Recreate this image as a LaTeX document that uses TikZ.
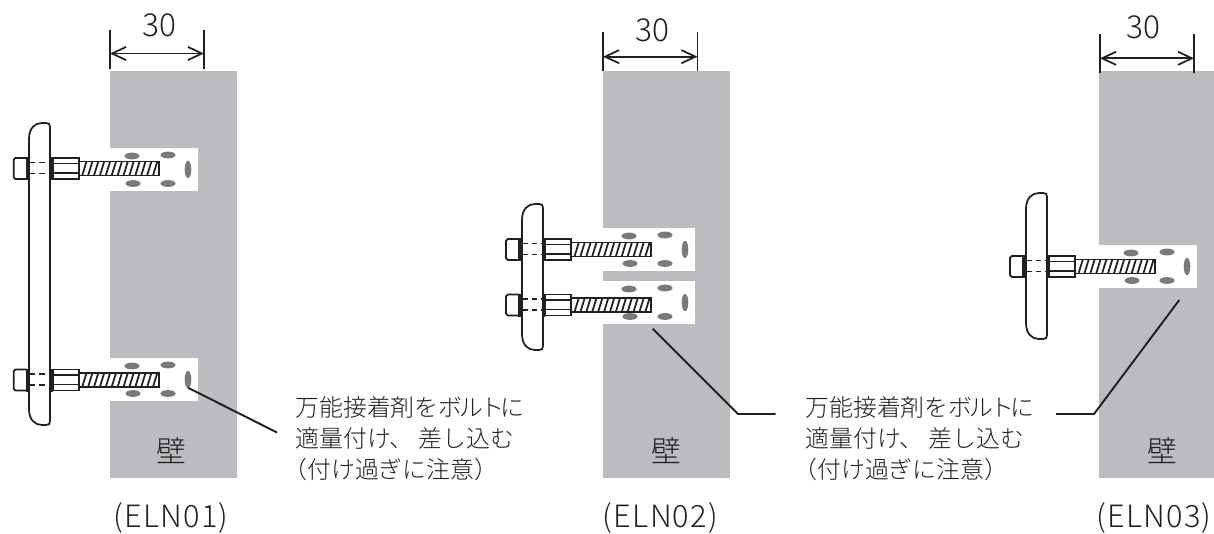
\documentclass[tikz,border=0pt]{standalone}
\usepackage{fontspec}
\setmainfont[UprightFont=* Light]{Noto Sans CJK JP}
\newfontfamily\capfont[UprightFont=* Light,LetterSpace=4]{Noto Sans CJK JP}
\usetikzlibrary{arrows.meta,positioning}
\definecolor{mywall}{RGB}{187,188,192}
\definecolor{myspot}{RGB}{122,122,125}
\definecolor{myink}{RGB}{35,31,32}
\def\anchorhole(#1,#2,#3)% Syntax: (wall left, hole right, hole centre)
    { \fill[white] (#1,#3-21.5) rectangle (#2,#3+21.5);
      \fill[spot] (#2-66,#3-13.5) ellipse (7.5 and 3.4);
      \fill[spot] (#2-30,#3-14.5) ellipse (7.5 and 3.4);
      \fill[spot] (#2-65,#3+14) ellipse (7.5 and 3.4);
      \fill[spot] (#2-30,#3+14) ellipse (7.5 and 3.4);
      \fill[spot] (#2-10,#3) ellipse (3.3 and 8.7); }
\def\anchorbolt(#1,#2)% Syntax: (head left, bolt centre)
    { \begin{scope}[shift={(#1,#2)},part]
      \draw[rounded corners=1] (13,-10.5) -- (0,-10.5) -- (0,10.5) -- (13,10.5);
      \fill[myink] (12.3,-11.5) rectangle (16.3,11.5);
      \fill[myink] (35.6,-11.5) rectangle (39,11.5);
      \draw[dash pattern=on 3 off 2.4] (16.3,-6) -- (35.6,-6);
      \draw[dash pattern=on 3 off 2.4] (16.3,5) -- (35.6,5);
      \draw (39,-10.5) rectangle (65.3,10.5);
      \draw (39,-5) -- (65.3,-5);
      \draw (39,4.5) -- (65.3,4.5);
      \draw (65.3,-7) rectangle (145,7);
      \foreach \k in {0,...,12} {
          \draw (68.5+5.9*\k,7) -- (72.8+5.9*\k,-7);
      }
      \end{scope} }
\def\platebar(#1,#2,#3)% Syntax: (left, top, bottom)
    { \draw[part] (#1,#2+16) .. controls (#1,#2+5) and (#1+6,#2) .. (#1+13,#2)
        -- (#1+17,#2) .. controls (#1+20,#2) and (#1+21,#2+1) .. (#1+21,#2+4)
        -- (#1+21,#3-4) .. controls (#1+21,#3-1) and (#1+20,#3) .. (#1+17,#3)
        -- (#1+13,#3) .. controls (#1+6,#3) and (#1,#3-5) .. (#1,#3-16) -- cycle; }
\begin{document}
\begin{tikzpicture}
    [x=0.02cm,y=-0.02cm,
     spot/.style={myspot},
     part/.style={myink,line width=1pt},
     dim/.style={myink,line width=1pt,{Straight Barb[length=8pt,width=7.5pt]}-{Straight Barb[length=8pt,width=7.5pt]}},
     extline/.style={myink,line width=1.05pt},
     leader/.style={myink,line width=1.1pt},
     wallname/.style={myink,font=\fontsize{17}{18}\selectfont,inner sep=0pt},
     dimtext/.style={myink,font=\fontsize{18}{19}\selectfont,inner sep=0pt},
     captext/.style={myink,font=\capfont\fontsize{17.5}{18}\selectfont,inner sep=0pt},
     note/.style={myink,font=\fontsize{13.6}{17.6}\selectfont,align=left,anchor=west,inner sep=0pt}]

    % walls
    \fill[mywall] (110,71) rectangle (237,478);
    \fill[mywall] (603,71) rectangle (730,478);
    \fill[mywall] (1099,71) rectangle (1226,478);

    % holes
    \anchorhole(110,198,169.5)
    \anchorhole(110,198,379.5)
    \anchorhole(603,695,249.5)
    \anchorhole(603,695,302.5)
    \anchorhole(1099,1197,266.5)

    % plates and bolts
    \platebar(29,123,425)
    \anchorbolt(13.7,168.5)
    \anchorbolt(13.7,380)
    \platebar(522,204,350)
    \anchorbolt(506,249.5)
    \anchorbolt(506,305)
    \platebar(1026,193,339)
    \anchorbolt(1010,266.5)

    % dimensions
    \coordinate (top1l) at (110,30);
    \coordinate (foot1l) at (110,69);
    \coordinate (top1r) at (204,30);
    \coordinate (foot1r) at (204,69);
    \coordinate (arr1l) at (110,53.5);
    \coordinate (arr1r) at (204,53.5);
    \draw[extline] (top1l) -- (foot1l);
    \draw[extline] (top1r) -- (foot1r);
    \draw[dim] (arr1l) -- (arr1r);
    \node[dimtext] (dim1) at (159,25) {30};

    \coordinate (top2l) at (603,32);
    \coordinate (foot2l) at (603,71);
    \coordinate (top2r) at (697.5,32);
    \coordinate (foot2r) at (697.5,71);
    \coordinate (arr2l) at (603,56.7);
    \coordinate (arr2r) at (697.5,56.7);
    \draw[extline] (top2l) -- (foot2l);
    \draw[extline] (top2r) -- (foot2r);
    \draw[dim] (arr2l) -- (arr2r);
    \node[dimtext] (dim2) at (652,30) {30};

    \coordinate (top3l) at (1100,34);
    \coordinate (foot3l) at (1100,73);
    \coordinate (top3r) at (1194,34);
    \coordinate (foot3r) at (1194,73);
    \coordinate (arr3l) at (1100,58.3);
    \coordinate (arr3r) at (1194,58.3);
    \draw[extline] (top3l) -- (foot3l);
    \draw[extline] (top3r) -- (foot3r);
    \draw[dim] (arr3l) -- (arr3r);
    \node[dimtext] (dim3) at (1143,27.5) {30};

    % wall names
    \node[wallname] (wall1) at (171,451) {壁};
    \node[wallname] (wall2) at (666.7,451) {壁};
    \node[wallname] (wall3) at (1162,451) {壁};

    % notes
    \node[note] (note1) at (295,439) {万能接着剤をボ\kern-1.8pt ル\kern-1.8pt ト\kern-1.8pt に\\適量付け、 差し込む\\\kern-0.5em （付け過ぎに注意）};
    \node[note] (note2) at (805,439) {万能接着剤をボ\kern-1.8pt ル\kern-1.8pt ト\kern-1.8pt に\\適量付け、 差し込む\\\kern-0.5em （付け過ぎに注意）};

    % leaders
    \coordinate (lead1a) at (188,387.7);
    \coordinate (lead1b) at (277,432.5);
    \draw[leader] (lead1a) -- (lead1b);
    \coordinate (lead2a) at (652.7,328.7);
    \coordinate (lead2b) at (738,414);
    \coordinate (lead2c) at (775.7,414);
    \draw[leader] (lead2a) -- (lead2b) -- (lead2c);
    \coordinate (lead3a) at (1179.3,300);
    \coordinate (lead3b) at (1094,414);
    \coordinate (lead3c) at (1056,414);
    \draw[leader] (lead3a) -- (lead3b) -- (lead3c);

    % captions
    \node[captext] (cap1) at (171,518) {(ELN01)};
    \node[captext] (cap2) at (660.5,518) {(ELN02)};
    \node[captext] (cap3) at (1154,518) {(ELN03)};

    \pgfresetboundingbox
    \useasboundingbox (0,0) rectangle (1214,534);
\end{tikzpicture}
\end{document}
